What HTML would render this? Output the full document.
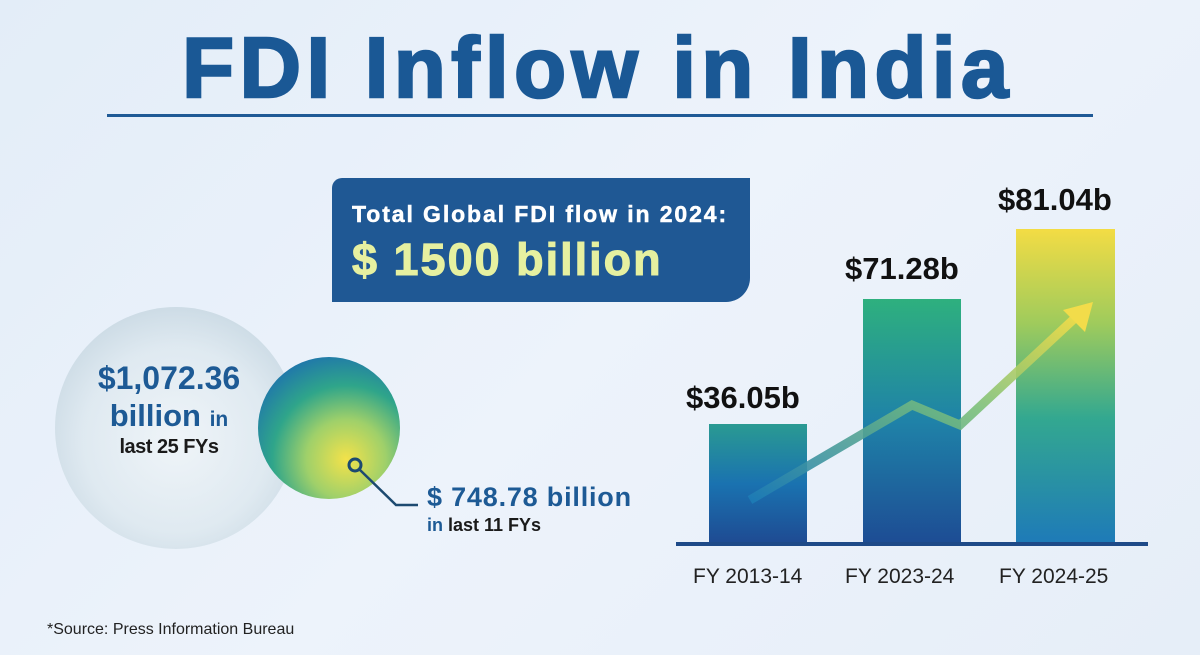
<!DOCTYPE html>
<html><head><style>
html,body{margin:0;padding:0}
body{width:1200px;height:655px;overflow:hidden;position:relative;font-family:"Liberation Sans",sans-serif;background:linear-gradient(135deg,#e3edf8 0%,#edf3fb 50%,#e6eef8 100%)}
.a{position:absolute;white-space:nowrap}
</style></head><body>
<div class="a" style="left:0;width:1196px;top:20px;text-align:center;font-size:85px;font-weight:bold;color:#1a5895;letter-spacing:5.5px;-webkit-text-stroke:2.5px #1a5895">FDI Inflow in India</div>
<div class="a" style="left:107px;top:114px;width:986px;height:3px;background:#1f5a96"></div>

<div class="a" style="left:332px;top:178px;width:418px;height:124px;background:#1f5894;border-radius:10px 0 24px 0"></div>
<div class="a" style="left:352px;top:201px;font-size:23px;font-weight:bold;color:#fff;letter-spacing:1.9px;-webkit-text-stroke:0.5px #fff">Total Global FDI flow in 2024:</div>
<div class="a" style="left:352px;top:234px;font-size:45px;font-weight:bold;color:#e6f0a0;letter-spacing:2px;-webkit-text-stroke:1px #e6f0a0">$ 1500 billion</div>

<svg class="a" style="left:0;top:0" width="1200" height="655">
<defs>
<radialGradient id="big" cx="0.5" cy="0.55" r="0.55"><stop offset="0" stop-color="#f0f5f8"/><stop offset="0.7" stop-color="#dde8ef"/><stop offset="1" stop-color="#c8d8e2"/></radialGradient>
<radialGradient id="sm" cx="0.62" cy="0.72" r="0.8"><stop offset="0" stop-color="#f3e24a"/><stop offset="0.35" stop-color="#9fd06a"/><stop offset="0.65" stop-color="#2fa58a"/><stop offset="1" stop-color="#1d6fb0"/></radialGradient>
<linearGradient id="b1" x1="0" y1="0" x2="0" y2="1"><stop offset="0" stop-color="#2a9a92"/><stop offset="0.5" stop-color="#1a72b0"/><stop offset="1" stop-color="#1e4a92"/></linearGradient>
<linearGradient id="b2" x1="0" y1="0" x2="0" y2="1"><stop offset="0" stop-color="#2eb07e"/><stop offset="0.5" stop-color="#1f82a8"/><stop offset="1" stop-color="#1d4c94"/></linearGradient>
<linearGradient id="b3" x1="0" y1="0" x2="0" y2="1"><stop offset="0" stop-color="#f3dc44"/><stop offset="0.3" stop-color="#9fcb5c"/><stop offset="0.6" stop-color="#33a890"/><stop offset="1" stop-color="#1e7ab8"/></linearGradient>
<linearGradient id="ar" x1="0" y1="1" x2="1" y2="0"><stop offset="0" stop-color="#1d7cb6"/><stop offset="0.6" stop-color="#7cc07a"/><stop offset="1" stop-color="#f2dc4a"/></linearGradient>
</defs>
<circle cx="176" cy="428" r="121" fill="url(#big)" opacity="0.85"/>
<circle cx="329" cy="428" r="71" fill="url(#sm)"/>
<circle cx="355" cy="465" r="6" fill="none" stroke="#1d4a70" stroke-width="3"/>
<polyline points="359,469 396,505 418,505" fill="none" stroke="#1d4a70" stroke-width="2.5"/>
<rect x="709" y="424" width="98" height="120" fill="url(#b1)"/>
<rect x="863" y="299" width="98" height="245" fill="url(#b2)"/>
<rect x="1016" y="229" width="99" height="315" fill="url(#b3)"/>
<rect x="676" y="542" width="472" height="4" fill="#1e4a88"/>
<polyline points="750,500 912,405 960,425 1075,318" fill="none" stroke="url(#ar)" stroke-width="9" opacity="0.9"/>
<polygon points="1093,302 1063,310 1085,332" fill="#f2dc4a"/>
</svg>

<div class="a" style="left:56px;width:226px;text-align:center;top:360px;font-size:32px;font-weight:bold;color:#1d5a95">$1,072.36</div>
<div class="a" style="left:56px;width:226px;text-align:center;top:398px;font-size:31px;font-weight:bold;color:#1d5a95">billion <span style="font-size:21px">in</span></div>
<div class="a" style="left:56px;width:226px;text-align:center;top:436px;font-size:20px;font-weight:bold;color:#1a1a1a;letter-spacing:-0.5px">last 25 FYs</div>

<div class="a" style="left:427px;top:482px;font-size:27px;font-weight:bold;color:#1d5a95;letter-spacing:0.8px">$ 748.78 billion</div>
<div class="a" style="left:427px;top:515px;font-size:18px;font-weight:bold;color:#1a1a1a"><span style="color:#1d5a95">in</span> last 11 FYs</div>

<div class="a" style="left:686px;top:380px;font-size:31px;font-weight:bold;color:#111">$36.05b</div>
<div class="a" style="left:845px;top:251px;font-size:31px;font-weight:bold;color:#111">$71.28b</div>
<div class="a" style="left:998px;top:182px;font-size:31px;font-weight:bold;color:#111">$81.04b</div>

<div class="a" style="left:693px;top:565px;font-size:21px;color:#222">FY 2013-14</div>
<div class="a" style="left:845px;top:565px;font-size:21px;color:#222">FY 2023-24</div>
<div class="a" style="left:999px;top:565px;font-size:21px;color:#222">FY 2024-25</div>

<div class="a" style="left:47px;top:621px;font-size:16px;color:#222">*Source: Press Information Bureau</div>
</body></html>
